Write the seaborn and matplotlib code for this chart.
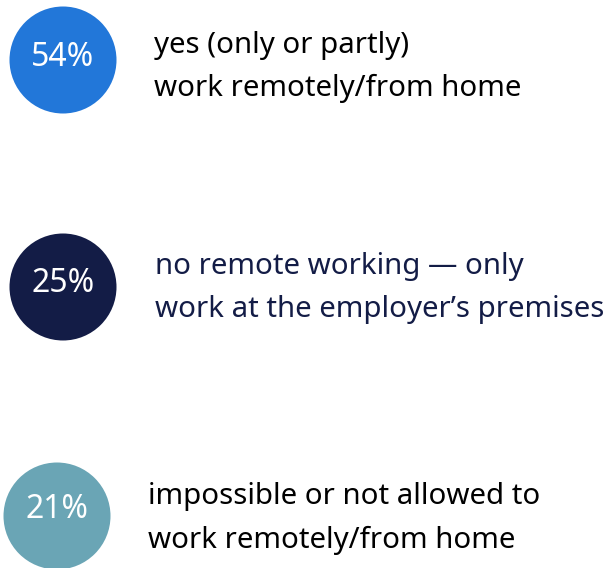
import matplotlib
matplotlib.use("Agg")
import matplotlib.pyplot as plt
import seaborn as sns
import pandas as pd

# Survey answers: share of respondents and their description
shares = [54, 25, 21]
answer_line1 = ["yes (only or partly)",
                "no remote working \u2014 only",
                "impossible or not allowed to"]
answer_line2 = ["work remotely/from home",
                "work at the employer\u2019s premises",
                "work remotely/from home"]
colors = ["#2277D9", "#131C46", "#6AA5B5"]
text_colors = ["#000000", "#131C46", "#000000"]

# Layout (pixel coordinates of the canvas)
W, H, DPI = 616, 568, 100
circle_x = [63, 63, 57]
circle_y = [60, 287, 516]
label_y = [57, 284, 510]
text_x = [154, 155, 148]
baseline1 = [53, 274, 504]
baseline2 = [96, 317, 548]
diameter_px = 107

sns.set_theme(style="white")
plt.rcParams["font.family"] = ["Noto Sans", "DejaVu Sans"]

fig = plt.figure(figsize=(W / DPI, H / DPI), dpi=DPI)
ax = fig.add_axes([0, 0, 1, 1])

df = pd.DataFrame({"x": circle_x, "y": circle_y,
                   "answer": answer_line1, "share": shares})
size_pt = diameter_px * 72 / DPI
sns.scatterplot(data=df, x="x", y="y", hue="answer", palette=colors,
                s=size_pt ** 2, marker="o", linewidth=0, legend=False, ax=ax)

for i, row in df.iterrows():
    ax.text(row.x, label_y[i], f"{row.share}%", color="white", fontsize=23,
            ha="center", va="center")
    ax.text(text_x[i], baseline1[i], answer_line1[i], color=text_colors[i],
            fontsize=21.2, ha="left", va="baseline")
    ax.text(text_x[i], baseline2[i], answer_line2[i], color=text_colors[i],
            fontsize=21.2, ha="left", va="baseline")

ax.set_xlim(0, W)
ax.set_ylim(H, 0)
ax.set_axis_off()
fig.savefig("out.png", dpi=DPI, facecolor="white")
